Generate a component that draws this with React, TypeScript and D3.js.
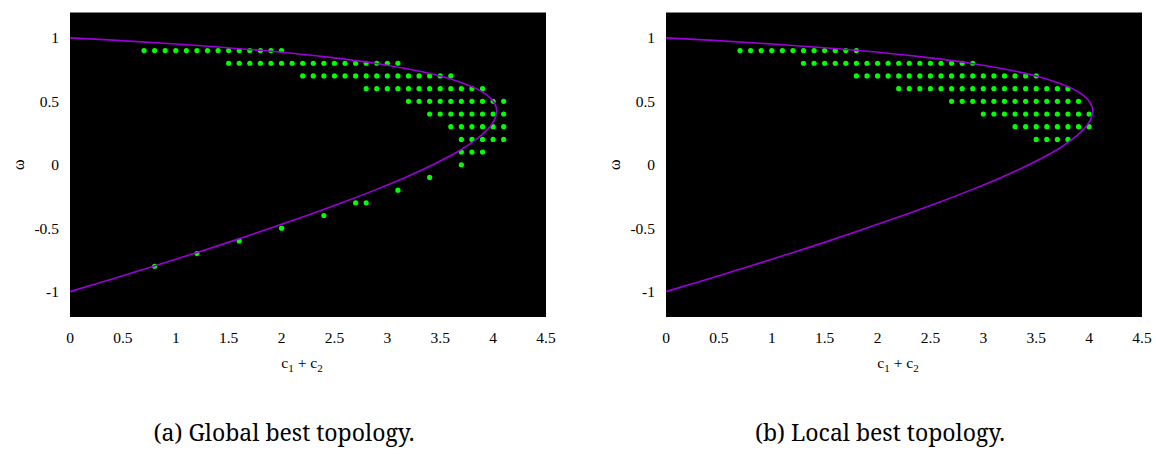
import React from "react";
import * as d3 from "d3";

// ---- data ----
const xTicks = [0, 0.5, 1, 1.5, 2, 2.5, 3, 3.5, 4, 4.5];
const yTicks = [1, 0.5, 0, -0.5, -1];

// stability boundary curve points (omega, c1 + c2)
const curveOmega = [-1, -0.95, -0.9, -0.8, -0.7, -0.6, -0.5, -0.4, -0.3, -0.2, -0.1, 0, 0.1, 0.2, 0.3, 0.35, 0.4, 0.45, 0.5, 0.55, 0.6, 0.7, 0.8, 0.85, 0.9, 0.95, 0.98, 1];
const curveC = [0, 0.2, 0.4, 0.79, 1.17, 1.54, 1.89, 2.24, 2.57, 2.88, 3.17, 3.43, 3.66, 3.84, 3.97, 4.01, 4.03, 4.03, 4.0, 3.94, 3.84, 3.5, 2.88, 2.42, 1.82, 1.04, 0.45, 0];

// (a) global best topology: omega rows and the c1+c2 values of the dots in each row
const globalOmega = [0.9, 0.8, 0.7, 0.6, 0.5, 0.4, 0.3, 0.2, 0.1, 0.0, -0.1, -0.2, -0.3, -0.4, -0.5, -0.6, -0.7, -0.8];
const globalC = [
  [0.7, 0.8, 0.9, 1.0, 1.1, 1.2, 1.3, 1.4, 1.5, 1.6, 1.7, 1.8, 1.9, 2.0],
  [1.5, 1.6, 1.7, 1.8, 1.9, 2.0, 2.1, 2.2, 2.3, 2.4, 2.5, 2.6, 2.7, 2.8, 2.9, 3.0, 3.1],
  [2.2, 2.3, 2.4, 2.5, 2.6, 2.7, 2.8, 2.9, 3.0, 3.1, 3.2, 3.3, 3.4, 3.5, 3.6],
  [2.8, 2.9, 3.0, 3.1, 3.2, 3.3, 3.4, 3.5, 3.6, 3.7, 3.8, 3.9],
  [3.2, 3.3, 3.4, 3.5, 3.6, 3.7, 3.8, 3.9, 4.0, 4.1],
  [3.4, 3.5, 3.6, 3.7, 3.8, 3.9, 4.0, 4.1],
  [3.6, 3.7, 3.8, 3.9, 4.0, 4.1],
  [3.7, 3.8, 3.9, 4.0, 4.1],
  [3.7, 3.8, 3.9],
  [3.7],
  [3.4],
  [3.1],
  [2.7, 2.8],
  [2.4],
  [2.0],
  [1.6],
  [1.2],
  [0.8],
];

// (b) local best topology
const localOmega = [0.9, 0.8, 0.7, 0.6, 0.5, 0.4, 0.3, 0.2];
const localC = [
  [0.7, 0.8, 0.9, 1.0, 1.1, 1.2, 1.3, 1.4, 1.5, 1.6, 1.7, 1.8],
  [1.3, 1.4, 1.5, 1.6, 1.7, 1.8, 1.9, 2.0, 2.1, 2.2, 2.3, 2.4, 2.5, 2.6, 2.7, 2.8, 2.9],
  [1.8, 1.9, 2.0, 2.1, 2.2, 2.3, 2.4, 2.5, 2.6, 2.7, 2.8, 2.9, 3.0, 3.1, 3.2, 3.3, 3.4, 3.5],
  [2.2, 2.3, 2.4, 2.5, 2.6, 2.7, 2.8, 2.9, 3.0, 3.1, 3.2, 3.3, 3.4, 3.5, 3.6, 3.7, 3.8],
  [2.7, 2.8, 2.9, 3.0, 3.1, 3.2, 3.3, 3.4, 3.5, 3.6, 3.7, 3.8, 3.9],
  [3.0, 3.1, 3.2, 3.3, 3.4, 3.5, 3.6, 3.7, 3.8, 3.9, 4.0],
  [3.3, 3.4, 3.5, 3.6, 3.7, 3.8, 3.9, 4.0],
  [3.5, 3.6, 3.7, 3.8],
];

const captions = ["(a) Global best topology.", "(b) Local best topology."];

const TICK_STYLE = { fontFamily: "Liberation Serif", fontSize: 15.5, fill: "#000" };
const CAPTION_STYLE = { fontFamily: "Noto Serif", fontSize: 23, fill: "#000" };

function Panel({ left, omegaRows, cRows, caption }: { left: number; omegaRows: number[]; cRows: number[][]; caption: string }) {
  const x = d3.scaleLinear().domain([0, 4.5]).range([left, left + 476]);
  const y = d3.scaleLinear().domain([-1.2, 1.2]).range([317, 12.5]);
  const pts: [number, number][] = curveOmega.map((w, i) => [curveC[i], w]);
  const line = d3
    .line<[number, number]>()
    .x((d) => x(d[0]))
    .y((d) => y(d[1]))
    .curve(d3.curveCatmullRom.alpha(0.5));
  const dots: { c: number; w: number }[] = [];
  omegaRows.forEach((w, i) => cRows[i].forEach((c) => dots.push({ c, w })));
  const cx = (x.range()[0] + x.range()[1]) / 2;
  return (
    <g>
      <rect x={x.range()[0]} y={y.range()[1]} width={x.range()[1] - x.range()[0]} height={y.range()[0] - y.range()[1]} fill="#000" />
      <clipPath id={`clip${left}`}>
        <rect x={x.range()[0]} y={y.range()[1]} width={x.range()[1] - x.range()[0]} height={y.range()[0] - y.range()[1]} />
      </clipPath>
      {dots.map((d, i) => (
        <circle key={i} cx={x(d.c)} cy={y(d.w)} r={2.6} fill="#00ff00" />
      ))}
      <path d={line(pts) || ""} fill="none" stroke="#9b00d9" strokeWidth={1.6} clipPath={`url(#clip${left})`} />
      {yTicks.map((t) => (
        <text key={t} x={x.range()[0] - 11} y={y(t)} dy="0.35em" textAnchor="end" style={TICK_STYLE}>
          {t}
        </text>
      ))}
      {xTicks.map((t) => (
        <text key={t} x={x(t)} y={343} textAnchor="middle" style={TICK_STYLE}>
          {t}
        </text>
      ))}
      <text x={cx - 6} y={368} textAnchor="middle" style={TICK_STYLE}>
        c<tspan style={{ fontSize: 11 }} dy={4}>1</tspan>
        <tspan dy={-4}> + c</tspan>
        <tspan style={{ fontSize: 11 }} dy={4}>2</tspan>
      </text>
      <text transform={`translate(${x.range()[0] - 52},${y(0)}) rotate(-90)`} textAnchor="middle" dy="0.35em" style={{ ...TICK_STYLE, fontSize: 16 }}>
        ω
      </text>
      <text x={cx - 24} y={441} textAnchor="middle" style={CAPTION_STYLE}>
        {caption}
      </text>
    </g>
  );
}

export default function App() {
  return (
    <svg width={1156} height={454} style={{ position: "absolute", left: 0, top: 0, background: "#fff" }}>
      <Panel left={70} omegaRows={globalOmega} cRows={globalC} caption={captions[0]} />
      <Panel left={666} omegaRows={localOmega} cRows={localC} caption={captions[1]} />
    </svg>
  );
}
